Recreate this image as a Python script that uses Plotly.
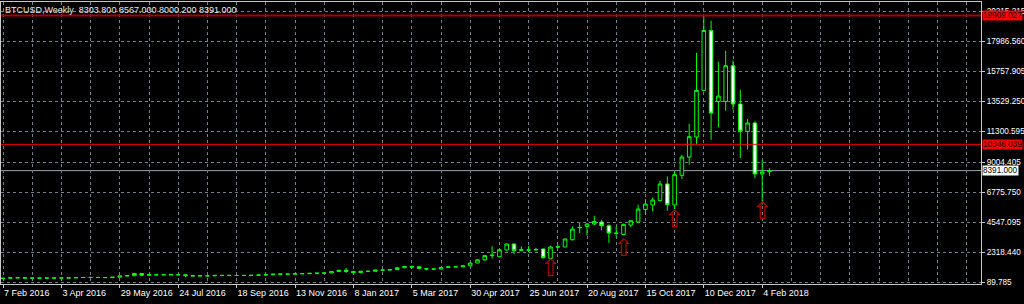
import pandas as pd
import plotly.graph_objects as go

# ---------------- data ----------------
first_week = "2016-02-07"
n_weeks = 106
week_dates = pd.date_range(first_week, periods=n_weeks, freq="7D")

opens = [375, 400, 438, 433, 412, 412, 410, 416, 420, 421, 425, 450, 455, 460, 457, 445,
         475, 575, 585, 750, 620, 665, 650, 665, 655, 655, 590, 570, 580, 575, 610, 608,
         610, 600, 610, 615, 640, 655, 700, 710, 705, 740, 735, 765, 775, 790, 900, 995,
         905, 820, 920, 915, 1010, 1000, 1050, 1180, 1270, 1250, 1100, 1085, 1080, 1200, 1250, 1250,
         1320, 1530, 1770, 2080, 2000, 2500, 2940, 2520, 2480, 2500, 2570, 1870, 2720, 2720, 3260, 4150,
         4250, 4430, 4575, 4300, 3760, 3650, 4350, 4575, 5510, 5840, 6180, 7400, 5840, 8040, 9400, 10890,
         14350, 18800, 13530, 13530, 16185, 13340, 11300, 11930, 8140, 8303.8]
highs = [405, 445, 440, 440, 422, 420, 420, 425, 424, 430, 462, 468, 465, 462, 460, 480,
         585, 600, 780, 770, 680, 700, 680, 680, 665, 660, 600, 585, 590, 615, 630, 612,
         612, 612, 618, 645, 660, 715, 740, 740, 750, 750, 770, 780, 795, 925, 1000, 1150,
         920, 935, 930, 1025, 1065, 1060, 1200, 1290, 1330, 1280, 1150, 1110, 1200, 1260, 1290, 1340,
         1560, 1800, 2100, 2780, 2530, 2980, 2990, 2760, 2800, 2660, 2620, 2815, 2880, 3330, 4250, 4550,
         4480, 5040, 4750, 4400, 4250, 4450, 4700, 5860, 6280, 6400, 7640, 7960, 8330, 9570, 11870, 17130,
         19850, 19520, 16480, 17300, 16560, 14400, 12220, 12050, 9150, 8567]
lows = [368, 398, 404, 405, 405, 405, 405, 410, 415, 418, 425, 445, 440, 448, 440, 437,
        470, 560, 580, 550, 600, 630, 640, 650, 645, 480, 560, 565, 570, 570, 600, 600,
        595, 598, 605, 612, 630, 650, 680, 690, 700, 725, 730, 750, 765, 785, 880, 800,
        750, 810, 880, 910, 950, 990, 1040, 1150, 1100, 1080, 980, 1040, 1075, 1180, 1200, 1240,
        1310, 1520, 1700, 1850, 1960, 2450, 2180, 2420, 2320, 2450, 1870, 1830, 2620, 2700, 3200, 3760,
        3560, 4350, 3950, 3020, 3500, 3600, 4200, 4550, 5120, 5360, 6100, 5410, 5540, 7770, 8830, 10320,
        14280, 10680, 11600, 12840, 12920, 9330, 9950, 7840, 5860, 8000.2]
closes = [400, 438, 433, 412, 412, 410, 416, 420, 421, 425, 450, 455, 460, 457, 445, 475,
          575, 585, 750, 620, 665, 650, 665, 655, 655, 590, 570, 580, 575, 610, 608, 610,
          600, 610, 615, 640, 655, 700, 710, 705, 740, 735, 765, 775, 790, 900, 995, 905,
          820, 920, 915, 1010, 1000, 1050, 1180, 1270, 1230, 1140, 1085, 1080, 1190, 1250, 1250, 1320,
          1530, 1770, 2080, 2110, 2520, 2940, 2460, 2480, 2500, 2530, 1925, 2720, 2730, 3315, 4050, 4175,
          4430, 4620, 4300, 3760, 3730, 4400, 4670, 5540, 5910, 6210, 7400, 5860, 8090, 9400, 10910, 14350,
          18800, 12670, 13930, 16185, 13340, 11300, 11930, 8140, 8300, 8391]

x_tick_labels = ["7 Feb 2016", "3 Apr 2016", "29 May 2016", "24 Jul 2016", "18 Sep 2016",
                 "13 Nov 2016", "8 Jan 2017", "5 Mar 2017", "30 Apr 2017", "25 Jun 2017",
                 "20 Aug 2017", "15 Oct 2017", "10 Dec 2017", "4 Feb 2018"]
y_tick_values = [89.785, 2318.440, 4547.095, 6775.750, 9004.405, 11300.595,
                 13529.250, 15757.905, 17986.560, 20215.215]
level_lines = [19909.027, 10346.039]
bid_price = 8391.000
title_text = "BTCUSD,Weekly  8303.800 8567.000 8000.200 8391.000"

arrow_week_index = [75, 85, 92, 104]
arrow_prices = [1000, 2480, 4650, 5220]

# ---------------- layout constants ----------------
W, H = 1024, 304
M_L, M_R, M_T, M_B = 1, 43, 2, 20
PX_PER_WEEK = 7.3
FIRST_BAR_PX = 3
plot_w = W - M_L - M_R
week = pd.Timedelta(days=7)
x_left = week_dates[0] - week * ((FIRST_BAR_PX - M_L) / PX_PER_WEEK)
x_right = x_left + week * (plot_w / PX_PER_WEEK)

GRID = "#6f7f8f"
FRAME = "#c8c8c8"
FONT = "Liberation Sans"
FS = 9
FS_R = 8.2

fig = go.Figure()
fig.add_trace(go.Candlestick(
    x=week_dates, open=opens, high=highs, low=lows, close=closes,
    increasing=dict(line=dict(color="#00ff00", width=1), fillcolor="#000000"),
    decreasing=dict(line=dict(color="#00ff00", width=1), fillcolor="#ffffff"),
    whiskerwidth=0, hoverinfo="skip", showlegend=False,
))
fig.add_trace(go.Scatter(
    x=[week_dates[i] for i in arrow_week_index], y=arrow_prices,
    mode="text", text=["\u21e7"] * len(arrow_prices), textposition="middle center",
    textfont=dict(family="DejaVu Sans", size=24, color="#b00000"),
    hoverinfo="skip", showlegend=False,
))

for lv in level_lines:
    fig.add_shape(type="line", xref="paper", x0=0, x1=1, yref="y", y0=lv, y1=lv,
                  line=dict(color="#ff0000" if lv < 15000 else "#a80000",
                            width=1 if lv < 15000 else 2), layer="above")
    fig.add_annotation(xref="paper", x=1, xanchor="left", xshift=1, yref="y", y=lv,
                       yanchor="middle", text=f"{lv:.3f}", showarrow=False,
                       bgcolor="#ff0000", borderpad=0,
                       font=dict(family=FONT, size=FS_R, color="#000000"))
fig.add_shape(type="line", xref="paper", x0=0, x1=1, yref="y", y0=bid_price, y1=bid_price,
              line=dict(color="#9aa3ad", width=1), layer="below")
fig.add_annotation(xref="paper", x=1, xanchor="left", xshift=1, yref="y", y=bid_price,
                   yanchor="middle", text=f"{bid_price:.3f}", showarrow=False,
                   bgcolor="#ffffff", borderpad=0,
                   font=dict(family=FONT, size=FS_R, color="#000000"))
fig.add_annotation(xref="paper", x=0, xanchor="left", xshift=2, yref="paper", y=1,
                   yanchor="middle", yshift=-8, text=title_text, showarrow=False,
                   font=dict(family=FONT, size=FS, color="#e8e8e8"))

fig.update_layout(
    width=W, height=H, margin=dict(l=M_L, r=M_R, t=M_T, b=M_B, pad=0),
    paper_bgcolor="#000000", plot_bgcolor="#000000",
    font=dict(family=FONT, size=FS, color="#ffffff"),
    showlegend=False, hovermode=False,
    xaxis=dict(
        type="date", range=[x_left, x_right], rangeslider=dict(visible=False),
        tickvals=list(week_dates[0::8]), ticktext=x_tick_labels, tickangle=0,
        automargin=False,
        ticks="outside", ticklen=3, tickcolor=FRAME, ticklabelposition="outside right",
        showgrid=True, gridcolor=GRID, griddash="3px,3px", gridwidth=1,
        minor=dict(tick0=first_week, dtick=28 * 86400000, showgrid=True,
                   gridcolor=GRID, griddash="3px,3px", ticks=""),
        showline=True, mirror=True, linecolor=FRAME, linewidth=1,
        zeroline=False, fixedrange=True,
        tickfont=dict(family=FONT, size=FS, color="#ffffff"),
    ),
    yaxis=dict(
        side="right", range=[-29, 20915], automargin=False,
        tickvals=y_tick_values, tickformat=".3f",
        ticks="outside", ticklen=3, tickcolor=FRAME,
        showgrid=True, gridcolor=GRID, griddash="3px,3px", gridwidth=1,
        showline=True, mirror=True, linecolor=FRAME, linewidth=1,
        zeroline=False, fixedrange=True,
        tickfont=dict(family=FONT, size=FS_R, color="#ffffff"),
    ),
)

fig.write_html("out.html", config={"displayModeBar": False})
